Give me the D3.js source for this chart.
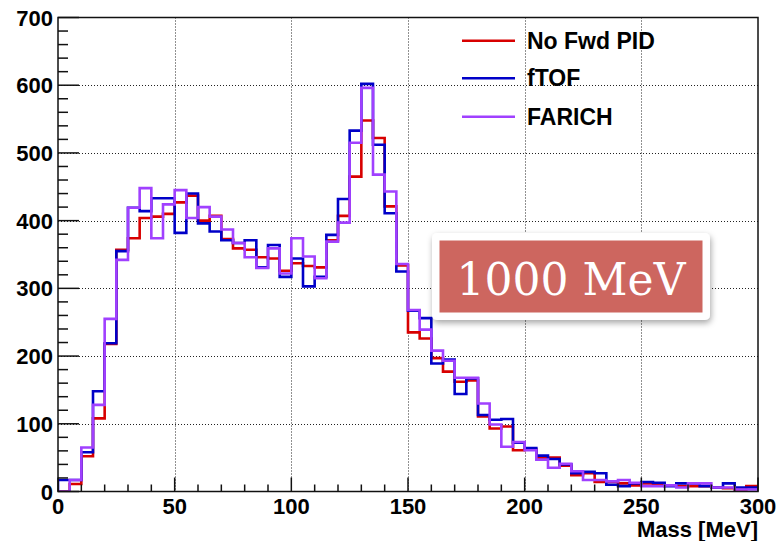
<!DOCTYPE html>
<html>
<head>
<meta charset="utf-8">
<script src="https://cdn.jsdelivr.net/npm/d3@7"></script>
<style>
  html, body { margin: 0; padding: 0; background: #fff; }
  svg { display: block; }
</style>
</head>
<body>
<svg id="chart" width="780" height="541"></svg>
<script>
// ---- Data (bins of 5 MeV from 0 to 300) ----
const binWidth = 5;
const noFwdPID = [0, 11, 52, 108, 218, 357, 374, 404, 406, 410, 427, 437, 400, 407, 373, 359, 357, 346, 344, 326,
                  337, 333, 331, 371, 407, 465, 548, 522, 421, 334, 235, 226, 197, 177, 162, 164, 111, 93, 96, 61,
                  62, 50, 50, 38, 24, 27, 14, 14, 12, 9, 12, 11, 9, 8, 8, 8, 6, 5, 3, 8];
const fTOF     = [17, 17, 58, 148, 219, 355, 419, 414, 433, 433, 382, 440, 396, 384, 371, 367, 371, 331, 364, 317,
                  344, 303, 317, 379, 432, 533, 602, 512, 411, 325, 267, 256, 189, 195, 144, 167, 113, 106, 107, 72,
                  64, 53, 48, 40, 27, 29, 27, 10, 8, 12, 14, 13, 8, 12, 12, 8, 6, 12, 6, 6];
const FARICH   = [0, 17, 65, 128, 255, 342, 419, 448, 374, 424, 445, 404, 420, 406, 387, 367, 346, 330, 359, 322,
                  374, 347, 315, 369, 397, 515, 596, 468, 443, 336, 268, 239, 208, 193, 168, 168, 130, 99, 66, 73,
                  61, 47, 35, 41, 30, 17, 17, 15, 17, 13, 8, 8, 9, 6, 12, 12, 6, 6, 3, 3];
const seriesNames = ["No Fwd PID", "fTOF", "FARICH"];
const seriesColors = ["#d80000", "#0000c8", "#a040ff"];
const xTicks = [0, 50, 100, 150, 200, 250, 300];
const yTicks = [0, 100, 200, 300, 400, 500, 600, 700];
const xTitle = "Mass [MeV]";
const energyLabel = "1000 MeV";

// ---- Layout ----
const svg = d3.select("#chart");
const L = 58, R = 758, T = 17.5, B = 491.5;
const x = d3.scaleLinear().domain([0, 300]).range([L, R]);
const y = d3.scaleLinear().domain([0, 700]).range([B, T]);

// Grid (dotted)
const grid = svg.append("g");
grid.selectAll("line.gx").data(xTicks.slice(1, -1)).join("line")
  .attr("x1", d => Math.round(x(d)) + 0.5).attr("x2", d => Math.round(x(d)) + 0.5)
  .attr("y1", T).attr("y2", B)
  .attr("stroke", "#222").attr("stroke-width", 1).attr("stroke-dasharray", "1,2");
grid.selectAll("line.gy").data(yTicks.slice(1, -1)).join("line")
  .attr("y1", d => Math.round(y(d)) + 0.5).attr("y2", d => Math.round(y(d)) + 0.5)
  .attr("x1", L).attr("x2", R)
  .attr("stroke", "#222").attr("stroke-width", 1).attr("stroke-dasharray", "1,2");

// Histograms
svg.append("defs").append("clipPath").attr("id", "plotclip")
  .append("rect").attr("x", L).attr("y", T).attr("width", R - L).attr("height", B - T);

const allSeries = [noFwdPID, fTOF, FARICH];
const line = d3.line().x(d => x(d[0])).y(d => y(d[1])).curve(d3.curveStepAfter);
const hg = svg.append("g").attr("clip-path", "url(#plotclip)");
allSeries.forEach((vals, si) => {
  const pts = [[0, 0]].concat(vals.map((v, i) => [i * binWidth, v]));
  pts.push([vals.length * binWidth, vals[vals.length - 1]]);
  hg.append("path").datum(pts)
    .attr("d", line)
    .attr("fill", "none")
    .attr("stroke", seriesColors[si])
    .attr("stroke-width", 2.6)
    .attr("stroke-linejoin", "miter");
});

// Frame
svg.append("rect").attr("x", L).attr("y", T).attr("width", R - L).attr("height", B - T)
  .attr("fill", "none").attr("stroke", "#111").attr("stroke-width", 1.5);

// Y axis ticks (inside)
const yMinor = d3.range(0, 701, 20);
svg.append("g").selectAll("line").data(yMinor).join("line")
  .attr("x1", L).attr("x2", d => L + (d % 100 === 0 ? 21 : 10))
  .attr("y1", d => y(d)).attr("y2", d => y(d))
  .attr("stroke", "#111").attr("stroke-width", 1.5);
// X axis ticks (inside)
const xMinor = d3.range(0, 301, 10);
svg.append("g").selectAll("line").data(xMinor).join("line")
  .attr("y1", B).attr("y2", d => B - (d % 50 === 0 ? 14 : 7))
  .attr("x1", d => x(d)).attr("x2", d => x(d))
  .attr("stroke", "#111").attr("stroke-width", 1.5);

// Tick labels
const font = "'Liberation Sans', Arial, sans-serif";
svg.append("g").selectAll("text").data(yTicks).join("text")
  .attr("x", L - 5).attr("y", d => y(d) + 8)
  .attr("text-anchor", "end")
  .attr("font-family", font).attr("font-weight", "bold").attr("font-size", 22)
  .attr("fill", "#000").text(d => d);
svg.append("g").selectAll("text").data(xTicks).join("text")
  .attr("x", d => x(d)).attr("y", 514)
  .attr("text-anchor", "middle")
  .attr("font-family", font).attr("font-weight", "bold").attr("font-size", 22)
  .attr("fill", "#000").text(d => d);

// Axis title
svg.append("text").attr("x", R).attr("y", 537)
  .attr("text-anchor", "end")
  .attr("font-family", font).attr("font-weight", "bold").attr("font-size", 22)
  .attr("fill", "#000").text(xTitle);

// Legend
const legY = [40.7, 78.3, 116.7];
const leg = svg.append("g");
seriesNames.forEach((name, i) => {
  leg.append("line").attr("x1", 462).attr("x2", 515)
    .attr("y1", legY[i]).attr("y2", legY[i])
    .attr("stroke", seriesColors[i]).attr("stroke-width", 2.6);
  leg.append("text").attr("x", 527).attr("y", legY[i] + 8)
    .attr("font-family", font).attr("font-weight", "bold").attr("font-size", 23)
    .attr("fill", "#000").text(name);
});

// Energy label box
const defs = svg.select("defs");
const f = defs.append("filter").attr("id", "shadow").attr("x", "-10%").attr("y", "-20%").attr("width", "125%").attr("height", "150%");
f.append("feDropShadow").attr("dx", 1).attr("dy", 3).attr("stdDeviation", 3).attr("flood-color", "#000").attr("flood-opacity", 0.35);
svg.append("rect").attr("x", 432).attr("y", 233).attr("width", 278).attr("height", 87)
  .attr("rx", 5).attr("fill", "#fff").attr("filter", "url(#shadow)");
svg.append("rect").attr("x", 439.5).attr("y", 240.5).attr("width", 263).attr("height", 72)
  .attr("fill", "#cd665f");
svg.append("text").attr("x", 571).attr("y", 295)
  .attr("text-anchor", "middle")
  .attr("font-family", "'DejaVu Serif', serif").attr("font-size", 44)
  .attr("fill", "#fff").text(energyLabel);
</script>
</body>
</html>
